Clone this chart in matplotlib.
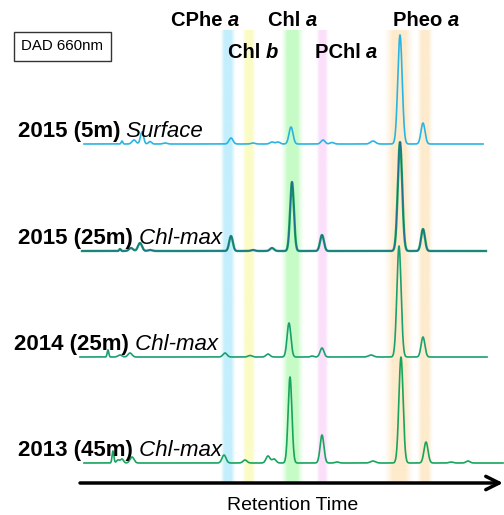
import numpy as np
import matplotlib
matplotlib.use("Agg")
import matplotlib.pyplot as plt

plt.rcParams['font.family'] = ['Liberation Sans', 'DejaVu Sans']

# ---------------- data ----------------
# pigment bands: (start, end) in retention-time units, colour
band_ranges = [(222, 234), (244, 254), (283, 302), (318, 327), (386, 412), (419, 431)]
band_colors = ['#c4eefc', '#fbfbc4', '#c6fbc6', '#fbdffb', '#fdebcc', '#fdebcc']

# pigment labels
pig_names = ['CPhe', 'Chl', 'Chl', 'PChl', 'Pheo']
pig_sub = ['a', 'b', 'a', 'a', 'a']
pig_x = [171, 228, 268, 315, 393]
pig_row = [0, 1, 0, 1, 0]

# samples
sample_bold = ['2015 (5m)', '2015 (25m)', '2014 (25m)', '2013 (45m)']
sample_ital = ['Surface', 'Chl-max', 'Chl-max', 'Chl-max']
sample_label_x = [18, 18, 14, 18]
sample_offsets = [144, 251, 357, 463]
sample_colors = ['#2ab4e4', '#1a9a6c', '#1aa070', '#18a45e']
sample_start = [84, 82, 80, 84]
sample_end = [483, 486, 487, 503]

# peaks per sample: retention times and heights
peaks_t = [
    [122, 134, 142, 150, 165, 231, 253, 272, 278, 291, 323, 332, 373, 400, 423],
    [120, 131, 140, 150, 231, 253, 272, 292, 322, 400, 423],
    [108, 120, 130, 225, 250, 268, 289, 312, 322, 371, 399, 423],
    [113, 118, 122, 132, 224, 245, 268, 274, 290, 322, 337, 373, 401, 426, 451, 468],
]
peaks_h = [
    [3, 4, 12, 2.5, 1, 6, 1, 2, 2, 17, 4, 1.5, 3, 109, 21],
    [2, 3, 8, 1, 15, 1, 3, 69, 16, 109, 22],
    [7, 2, 4, 4, 1.5, 3, 34, 1, 9, 2, 111, 20],
    [12, 3, 4, 6, 8, 3, 7, 4, 86, 28, 1, 2, 106, 21, 1, 2],
]
peaks_w = [
    [0.8, 2, 1.6, 1.5, 2, 2, 2, 2, 2, 2, 2, 2, 2.5, 2.2, 2],
    [0.8, 2, 2, 2, 1.8, 2, 2, 1.9, 1.9, 2.2, 1.9],
    [0.8, 2, 2, 2, 2, 2, 1.9, 1.5, 1.9, 2.5, 2.1, 1.9],
    [0.9, 1.5, 1.5, 2, 2, 2, 2, 2, 1.9, 1.9, 2, 2.5, 2.1, 2, 2, 2],
]

# ---------------- figure ----------------
fig = plt.figure(figsize=(5.04, 5.15), dpi=100)
ax = fig.add_axes([0, 0, 1, 1])
ax.set_xlim(0, 504)
ax.set_ylim(515, 0)
ax.axis('off')

# bands with soft edges
for (x0, x1), col in zip(band_ranges, band_colors):
    rgb = matplotlib.colors.to_rgb(col)
    n = 60
    xs = np.linspace(0, 1, n)
    alpha = np.clip(np.minimum(xs, 1 - xs) / 0.28, 0, 1) ** 1.3
    img = np.zeros((1, n, 4))
    img[0, :, :3] = rgb
    img[0, :, 3] = alpha
    pad = 2.0
    ax.imshow(img, extent=(x0 - pad, x1 + pad, 482, 30), aspect='auto',
              interpolation='bilinear', zorder=0)

# traces
for i in range(4):
    t = np.linspace(sample_start[i], sample_end[i], 2000)
    sig = np.zeros_like(t)
    for pt, ph, pw in zip(peaks_t[i], peaks_h[i], peaks_w[i]):
        sig += ph * np.exp(-0.5 * ((t - pt) / pw) ** 2)
    y = sample_offsets[i] - sig
    if i == 1:
        ax.plot(t, y, color='#1a9c68', lw=1.7, zorder=3)
        ax.plot(t, y, color='#2456a8', lw=0.55, alpha=0.85, zorder=4)
    else:
        ax.plot(t, y, color=sample_colors[i], lw=1.2, zorder=3)

# sample labels
for i in range(4):
    tb = ax.text(sample_label_x[i], sample_offsets[i] - 7, sample_bold[i],
                 fontsize=16, fontweight='bold', ha='left', va='baseline', zorder=5)
    ax.annotate(' ' + sample_ital[i], xy=(1, 0), xycoords=tb, fontsize=16,
                style='italic', ha='left', va='bottom', zorder=5)

# pigment labels
for name, sub, x, row in zip(pig_names, pig_sub, pig_x, pig_row):
    yb = 26 if row == 0 else 58
    tb = ax.text(x, yb, name + ' ', fontsize=14.5, fontweight='bold', ha='left',
                 va='baseline')
    ax.annotate(sub, xy=(1, 0), xycoords=tb, fontsize=14.5, fontweight='bold',
                style='italic', ha='left', va='bottom')

# DAD box
ax.text(62, 46.5, 'DAD 660nm', fontsize=10.8, ha='center', va='center',
        bbox=dict(boxstyle='square,pad=0.5', fc='white', ec='#333333', lw=1.0))

# retention time arrow
ax.annotate('', xy=(503, 483), xytext=(80, 483),
            arrowprops=dict(arrowstyle='->', lw=2.5, color='black',
                            mutation_scale=24, shrinkA=0, shrinkB=0))
ax.text(293, 506, 'Retention Time', fontsize=14, ha='center', va='center')

fig.savefig('out.png', dpi=100)
